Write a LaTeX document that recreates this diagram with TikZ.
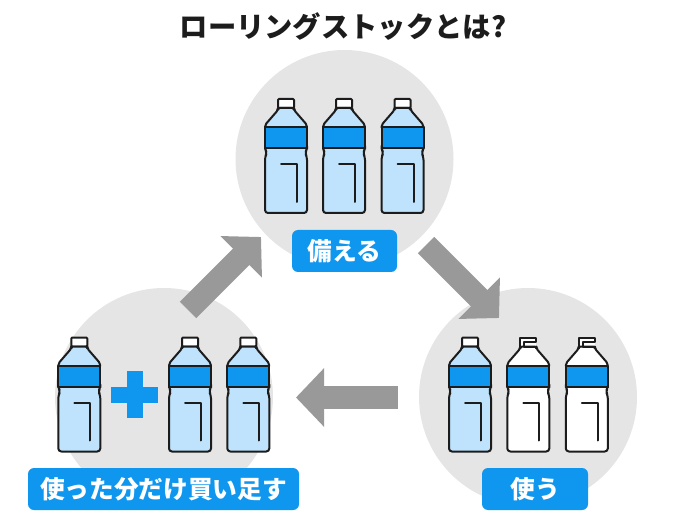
\documentclass[tikz,border=0pt]{standalone}
\usepackage{fontspec}
\setmainfont{Noto Sans CJK JP}[BoldFont={Noto Sans CJK JP Black}]
\usepackage{xcolor}
\usetikzlibrary{arrows.meta}
\definecolor{labelblue}{HTML}{0F96EE}
\definecolor{waterblue}{HTML}{BFE3FD}
\definecolor{circlegray}{HTML}{E5E5E5}
\definecolor{arrowgray}{HTML}{999999}
\definecolor{inkblack}{HTML}{1C1C1C}
\newcommand{\bottlebody}[1]{
    \draw[bottleline,fill=#1,rounded corners=2pt] (-8,9) -- (-8,11) -- (-21,26) -- (-21,30) -- (21,30) -- (21,26) -- (8,11) -- (8,9) -- cycle;
    \draw[bottleline,fill=#1,rounded corners=3pt] (-21,47) -- (-21,50) -- (-19,54) -- (-21,58) -- (-21,114) -- (21,114) -- (21,58) -- (19,54) -- (21,50) -- (21,47) -- cycle;
    \draw[bottleline,fill=labelblue] (-21,28) rectangle (21,49);
    \draw[bottleline] (-5,65) -- (11,65) -- (11,103);
}
\tikzset{
    stage/.style={circle,fill=circlegray,minimum size=218pt,inner sep=0pt},
    stagelabel/.style={fill=labelblue,rounded corners=6pt,text=white,font=\bfseries\fontsize{24.7pt}{24.7pt}\selectfont,minimum height=42pt,inner sep=0pt},
    flowarrow/.style={arrowgray,line width=23pt,-{Triangle[length=28pt,width=57pt]}},
    bottleline/.style={inkblack,line width=2pt,line join=round,line cap=round},
    pics/fullbottle/.style={code={
        \draw[bottleline,fill=white,rounded corners=1pt] (-8,0) rectangle (8,9);
        \bottlebody{waterblue}
    }},
    pics/emptybottle/.style={code={
        \fill[white] (-8,0) rectangle (8,9);
        \bottlebody{white}
        \draw[bottleline] (8,9) -- (-4,9) -- (-4,4.5) -- (8,4.5) -- (8,0) -- (-8,0) -- (-8,9);
    }},
}
\begin{document}
\begin{tikzpicture}[x=1pt,y=-1pt]
    \useasboundingbox (0,0) rectangle (690,518);
    \node[font=\bfseries\fontsize{28.3pt}{28.3pt}\selectfont,text=inkblack] (title) at (343,27) {ローリングストックとは?};
    % circles
    \node[stage] (stock) at (344.5,159) {};
    \node[stage] (use) at (528,397) {};
    \node[stage] (refill) at (164,397) {};
    % arrows
    \coordinate (stockout) at (426,245);
    \coordinate (usein) at (499,318);
    \coordinate (useout) at (398,397.5);
    \coordinate (refillin) at (296,397.5);
    \coordinate (refillout) at (188,310);
    \coordinate (stockin) at (261,237);
    \draw[flowarrow] (refillout) -- (stockin);
    \draw[flowarrow] (stockout) -- (usein);
    \draw[flowarrow] (useout) -- (refillin);
    % bottles
    \foreach \cx in {286,344,402.5}
        \pic at (\cx,99) {fullbottle};
    \pic at (470,337.5) {fullbottle};
    \foreach \cx in {528.3,586.8}
        \pic at (\cx,337.5) {emptybottle};
    \foreach \cx in {79.3,190,248.3}
        \pic at (\cx,337.5) {fullbottle};
    % plus
    \fill[labelblue] (127,371) rectangle (143,418);
    \fill[labelblue] (111,387) rectangle (158,403);
    % labels
    \node[stagelabel,minimum width=105pt] (stocklabel) at (344.5,251) {備える};
    \node[stagelabel,minimum width=106pt] (uselabel) at (535,489) {使う};
    \node[stagelabel,minimum width=271pt] (refilllabel) at (163.5,489) {使った分だけ買い足す};
\end{tikzpicture}
\end{document}
